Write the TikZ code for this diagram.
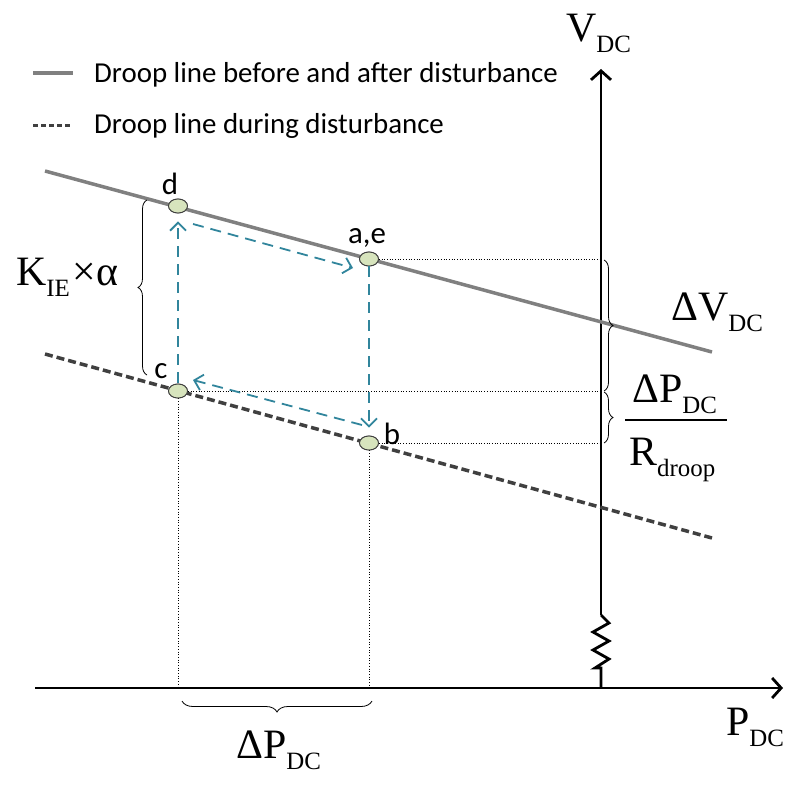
\documentclass[tikz,border=0pt]{standalone}
\usepackage{fontspec}
\setmainfont{Liberation Serif}
\newfontfamily\legendfont{Carlito}
\usetikzlibrary{calc, positioning}
\usetikzlibrary{arrows.meta}
\usetikzlibrary{shapes.geometric}
\usetikzlibrary{decorations.pathreplacing}

\definecolor{droopgray}{HTML}{808080}
\definecolor{droopdark}{HTML}{404040}
\definecolor{pathblue}{HTML}{31859C}
\definecolor{ptfill}{HTML}{D7E4BD}

\newcommand{\bigtxt}{\fontsize{42}{42}\selectfont}
\newcommand{\lowsub}[1]{\raisebox{-11bp}{\fontsize{25}{25}\selectfont #1}}

\tikzset{
  droop/.style={line width=3.5bp, droopgray},
  droopdist/.style={line width=3.5bp, droopdark, dash pattern=on 8bp off 4bp},
  axisline/.style={line width=2.8bp},
  axis/.style={axisline, -{Straight Barb[length=9bp,width=20bp]}},
  opstate/.style={ellipse, draw=black!75, line width=0.9bp, fill=ptfill,
    minimum width=19bp, minimum height=14bp, inner sep=0pt},
  pathflow/.style={line width=1.8bp, pathblue, dash pattern=on 11bp off 7bp,
    -{Straight Barb[length=8bp,width=16bp]}},
  guide/.style={dotted, line width=0.7bp},
  curly/.style={decorate, decoration={brace, amplitude=9bp}, line width=0.8bp},
  legtext/.style={font=\legendfont\fontsize{29}{29}\selectfont, inner sep=0pt, anchor=base west},
  ptlabel/.style={font=\legendfont\fontsize{31}{31}\selectfont, inner sep=0pt, anchor=base},
  qty/.style={font=\bigtxt, inner sep=0pt, anchor=base west},
}

\begin{document}
\begin{tikzpicture}[x=1bp, y=-1bp]
\useasboundingbox (0,0) rectangle (787,787);

\coordinate (O) at (601,688);
\coordinate (Xl) at (35,688);
\coordinate (Xr) at (783,688);
\coordinate (Vt) at (601,69);
\coordinate (Rt) at (601,615);
\coordinate (Rb) at (601,668);

\coordinate (S1) at (45,171);
\coordinate (S2) at (712,352);
\coordinate (D1) at (45,354);
\coordinate (D2) at (712,538);

% legend
\draw[droop] (33,73) -- (73,73);
\draw[droopdist, line width=3bp, dash pattern=on 5bp off 3bp] (33,125) -- (73,125);
\node[legtext] (leg1) at (94,82) {Droop line before and after disturbance};
\node[legtext] (leg2) at (94,133) {Droop line during disturbance};

% axes
\draw[axis] (Xl) -- (Xr);
\draw[axisline] (O) -- (Rb) -- (595,668) -- (609,659) -- (593,650) -- (609,641)
  -- (593,632) -- (609,623) -- (Rt);
\draw[axis] (Rt) -- (Vt);

% droop lines
\draw[droop] (S1) -- (S2);
\draw[droopdist] (D1) -- (D2);

\node[opstate] (d) at (178,206) {};
\node[opstate] (ae) at (369,259) {};
\node[opstate] (c) at (178,391) {};
\node[opstate] (b) at (369,443) {};

% guide lines
\draw[guide] (ae.east) -- (ae.east -| O);
\draw[guide] (c.east) -- (c.east -| O);
\draw[guide] (b.east) -- (b.east -| O);
\draw[guide] (c.south) -- (c.south |- O);
\draw[guide] (b.south) -- (b.south |- O);

\node[opstate] at (d) {};
\node[opstate] at (ae) {};
\node[opstate] at (c) {};
\node[opstate] at (b) {};

\draw[pathflow, shorten >=8bp, shorten <=1bp] (c.north) -- (d.south);
\draw[pathflow] ($(d)+(15,18)$) -- ($(ae)+(-16,9)$);
\draw[pathflow, shorten >=8bp] (ae.south) -- (b.north);
\draw[pathflow] ($(b)+(-7,-18)$) -- ($(c)+(15,-11)$);

\node[ptlabel] at (170,194) {d};
\node[ptlabel] at (367,243) {a,e};
\node[ptlabel] at (161,378) {c};
\node[ptlabel] at (392,444) {b};

% braces
\draw[curly] (147,375) -- (147,200);
\draw[curly] (604,260) -- (604,391);
\draw[curly] (604,392) -- (604,443);
\draw[curly, decoration={brace, amplitude=11bp}] (372,701) -- (182,701);

% quantities
\node[qty] (vdc) at (566,42) {V\lowsub{DC}};
\node[qty] (pdc) at (726,735) {P\lowsub{DC}};
\node[qty] (kie) at (16,285) {K\lowsub{IE}\kern3bp×α};
\node[qty] (dv) at (671,320) {ΔV\lowsub{DC}};
\node[qty] (dpn) at (632,402) {ΔP\lowsub{DC}};
\draw[line width=1.6bp] (625,420) -- (727,420);
\node[qty] (rd) at (629,465) {R\lowsub{droop}};
\node[qty] (dpb) at (236,758) {ΔP\lowsub{DC}};
\end{tikzpicture}
\end{document}
